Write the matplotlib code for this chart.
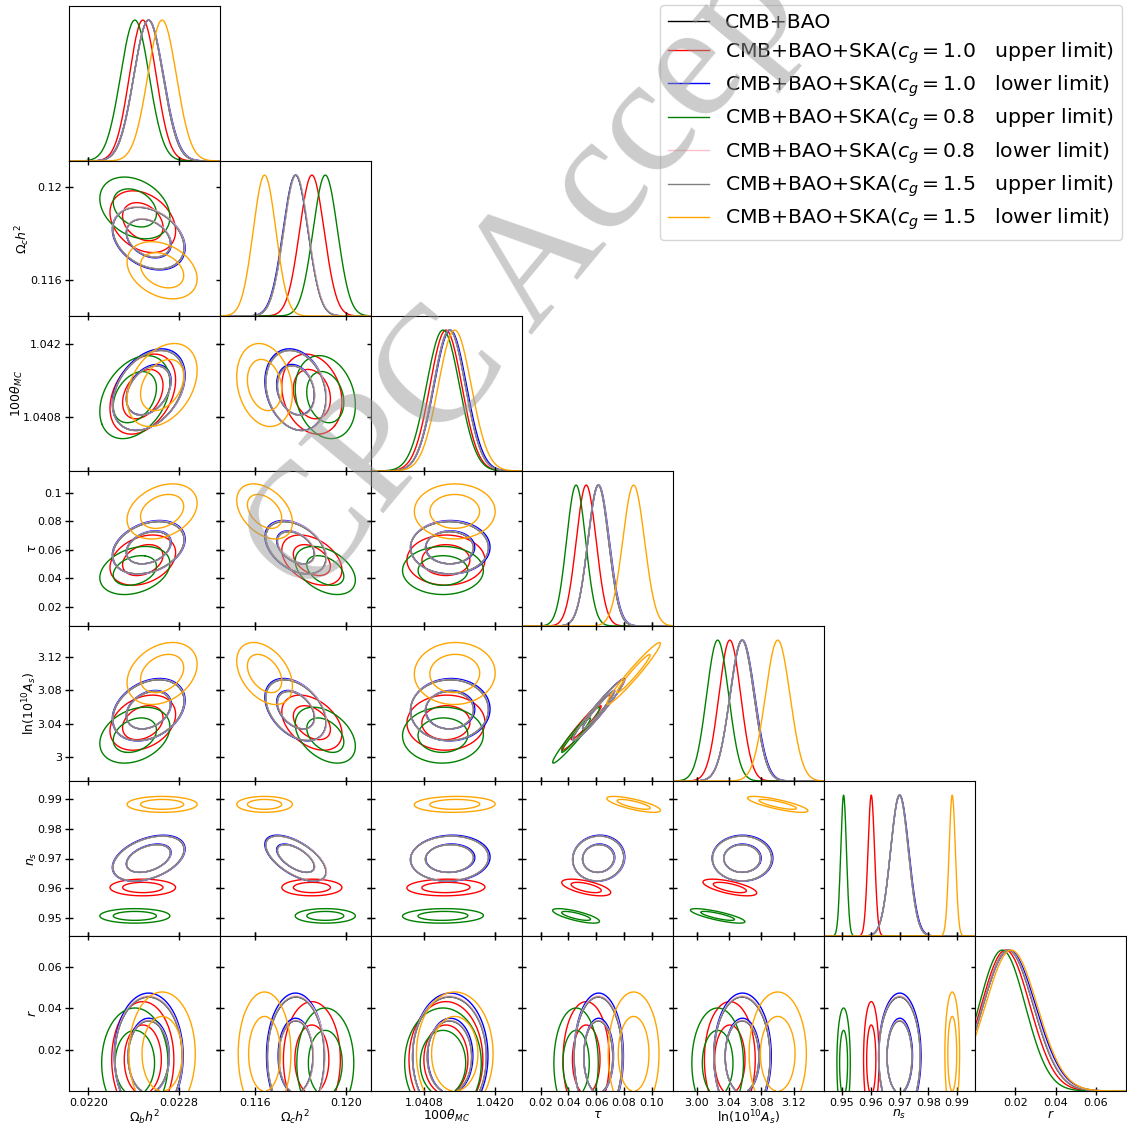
import numpy as np
import matplotlib
matplotlib.use('Agg')
import matplotlib.pyplot as plt
from matplotlib.lines import Line2D

# Parameters (order: omegabh2, omegach2, 100theta_MC, tau, ln(10^10 As), ns, r)
# --------------
par_labels = [r'$\Omega_b h^2$', r'$\Omega_c h^2$', r'$100\theta_{MC}$', r'$\tau$',
              r'${\rm ln}(10^{10}A_s)$', r'$n_s$', r'$r$']
par_lims = [(0.02183, 0.02316), (0.11446, 0.1211), (1.0399, 1.04246), (0.0065, 0.1154),
            (2.971, 3.157), (0.9438, 0.9962), (0.0, 0.075)]
tick_vals = [[0.0220, 0.0228], [0.116, 0.120], [1.0408, 1.0420],
             [0.02, 0.04, 0.06, 0.08, 0.10], [3.00, 3.04, 3.08, 3.12],
             [0.95, 0.96, 0.97, 0.98, 0.99], [0.02, 0.04, 0.06]]
x_ticklabels = [['0.0220', '0.0228'], ['0.116', '0.120'], ['1.0408', '1.0420'],
                ['0.02', '0.04', '0.06', '0.08', '0.10'], ['3.00', '3.04', '3.08', '3.12'],
                ['0.95', '0.96', '0.97', '0.98', '0.99'], ['0.02', '0.04', '0.06']]
y_ticklabels = [['0.0220', '0.0228'], ['0.116', '0.12'], ['1.0408', '1.042'],
                ['0.02', '0.04', '0.06', '0.08', '0.1'], ['3', '3.04', '3.08', '3.12'],
                ['0.95', '0.96', '0.97', '0.98', '0.99'], ['0.02', '0.04', '0.06']]

# Datasets
# --------------
names = ['CMB+BAO',
         r'CMB+BAO+SKA($c_g=1.0$   upper limit)',
         r'CMB+BAO+SKA($c_g=1.0$   lower limit)',
         r'CMB+BAO+SKA($c_g=0.8$   upper limit)',
         r'CMB+BAO+SKA($c_g=0.8$   lower limit)',
         r'CMB+BAO+SKA($c_g=1.5$   upper limit)',
         r'CMB+BAO+SKA($c_g=1.5$   lower limit)']
colors = ['k', 'red', 'blue', 'green', 'pink', 'gray', 'orange']

# means
mean_cmb_bao = [0.022530, 0.11780, 1.04123, 0.0615, 3.0560, 0.9700, 0.0165]
mean_c10_up = [0.022480, 0.11850, 1.04117, 0.0528, 3.0410, 0.9602, 0.0152]
mean_c10_low = [0.022532, 0.11778, 1.041245, 0.0618, 3.0566, 0.9701, 0.0170]
mean_c08_up = [0.022410, 0.11909, 1.04112, 0.0455, 3.0260, 0.9506, 0.0135]
mean_c08_low = [0.022531, 0.11781, 1.04123, 0.0616, 3.0562, 0.9700, 0.0166]
mean_c15_up = [0.022530, 0.11779, 1.04123, 0.0615, 3.0561, 0.9700, 0.0165]
mean_c15_low = [0.022650, 0.11642, 1.04132, 0.0870, 3.1000, 0.9883, 0.0180]

# standard deviations
sig_cmb_bao = [0.000128, 0.00054, 0.00027, 0.0075, 0.0149, 0.0031, 0.0125]
sig_c10_up = [0.000118, 0.00054, 0.00027, 0.0072, 0.0135, 0.00115, 0.0121]
sig_c10_low = [0.000131, 0.00055, 0.000275, 0.0077, 0.0153, 0.00318, 0.0131]
sig_c08_up = [0.000126, 0.00054, 0.00028, 0.0069, 0.0137, 0.00100, 0.0115]
sig_c08_low = [0.000129, 0.000545, 0.00027, 0.0076, 0.0150, 0.0031, 0.0127]
sig_c15_up = [0.000128, 0.00054, 0.00027, 0.0075, 0.0149, 0.0031, 0.0125]
sig_c15_low = [0.000126, 0.00050, 0.00028, 0.0079, 0.0152, 0.00110, 0.0129]

# correlation coefficients shared by all datasets
corr_base = [[1.00, -0.30, 0.35, 0.30, 0.30, 0.40, 0.00],
             [-0.30, 1.00, -0.20, -0.40, -0.40, -0.60, 0.00],
             [0.35, -0.20, 1.00, 0.00, 0.02, 0.05, 0.00],
             [0.30, -0.40, 0.00, 1.00, 0.97, 0.05, 0.00],
             [0.30, -0.40, 0.02, 0.97, 1.00, 0.00, 0.00],
             [0.40, -0.60, 0.05, 0.05, 0.00, 1.00, 0.00],
             [0.00, 0.00, 0.00, 0.00, 0.00, 0.00, 1.00]]
# n_s correlations per dataset (SKA upper limits change them)
rho_b_ns = [0.40, 0.00, 0.40, 0.00, 0.40, 0.40, 0.00]
rho_c_ns = [-0.60, 0.00, -0.60, 0.00, -0.60, -0.60, 0.00]
rho_tau_ns = [0.05, -0.60, 0.05, -0.75, 0.05, 0.05, -0.75]
rho_logA_ns = [0.00, -0.65, 0.00, -0.80, 0.00, 0.00, -0.80]

means = [mean_cmb_bao, mean_c10_up, mean_c10_low, mean_c08_up, mean_c08_low, mean_c15_up, mean_c15_low]
sigmas = [sig_cmb_bao, sig_c10_up, sig_c10_low, sig_c08_up, sig_c08_low, sig_c15_up, sig_c15_low]
npar = len(par_labels)
R_INDEX = 6


def get_rho(k, i, j):
    pair = tuple(sorted((i, j)))
    if pair == (0, 5):
        return rho_b_ns[k]
    if pair == (1, 5):
        return rho_c_ns[k]
    if pair == (3, 5):
        return rho_tau_ns[k]
    if pair == (4, 5):
        return rho_logA_ns[k]
    return corr_base[i][j]


def grid_for(k, i, n=220):
    m, s = means[k][i], sigmas[k][i]
    lo = m - 5 * s
    if i == R_INDEX:
        lo = 0.0
    return np.linspace(lo, m + 5 * s, n)


def density_levels(Z, fracs=(0.95, 0.68)):
    z = np.sort(Z.ravel())[::-1]
    c = np.cumsum(z)
    c /= c[-1]
    return [z[np.searchsorted(c, f)] for f in fracs]


fig = plt.figure(figsize=(11.27, 11.28), dpi=100)
gs = fig.add_gridspec(npar, npar, left=69 / 1127, right=1126 / 1127,
                      top=1 - 6 / 1128, bottom=1 - 1091 / 1128, wspace=0, hspace=0)

for row in range(npar):
    for col in range(row + 1):
        ax = fig.add_subplot(gs[row, col])
        ax.set_xlim(par_lims[col])
        if row == col:
            # 1D marginals
            x = np.linspace(par_lims[col][0], par_lims[col][1], 500)
            for k in range(len(names)):
                y = np.exp(-0.5 * ((x - means[k][col]) / sigmas[k][col]) ** 2)
                ax.plot(x, y, color=colors[k], lw=1.0)
            ax.set_ylim(0, 1.1)
            ax.set_yticks([])
            ax.tick_params(axis='x', direction='inout', length=6, width=1, top=False,
                           bottom=True, labelsize=8, pad=2)
        else:
            # 2D contours
            for k in range(len(names)):
                gx = grid_for(k, col)
                gy = grid_for(k, row)
                X, Y = np.meshgrid(gx, gy)
                dx = (X - means[k][col]) / sigmas[k][col]
                dy = (Y - means[k][row]) / sigmas[k][row]
                rho = get_rho(k, row, col)
                Q = (dx ** 2 - 2 * rho * dx * dy + dy ** 2) / (1 - rho ** 2)
                Z = np.exp(-0.5 * Q)
                lev = density_levels(Z)
                ax.contour(X, Y, Z, levels=lev, colors=colors[k], linewidths=1.0)
            ax.set_ylim(par_lims[row])
            ax.set_yticks(tick_vals[row])
            ax.tick_params(axis='both', direction='inout', length=6, width=1, top=True,
                           right=True, labelsize=8, pad=2)
            if col == 0:
                ax.set_yticklabels(y_ticklabels[row])
                ax.set_ylabel(par_labels[row], fontsize=9, labelpad=-1)
            else:
                ax.set_yticklabels([])
        ax.set_xticks(tick_vals[col])
        if row == npar - 1:
            ax.set_xticklabels(x_ticklabels[col])
            ax.set_xlabel(par_labels[col], fontsize=9, labelpad=0)
        else:
            ax.set_xticklabels([])

# Legend
handles = [Line2D([0], [0], color=c, lw=1.0) for c in colors]
fig.legend(handles, names, loc='upper right', bbox_to_anchor=(1122 / 1127, 1 - 5 / 1128),
           fontsize=14.7, borderaxespad=0, handlelength=2.0, labelspacing=0.385)

# Watermark
fig.text(0.5235, 0.821, 'CPC Accepted', fontsize=120, family='Liberation Serif',
         color='0.6', alpha=0.5, rotation=50.3, rotation_mode='anchor',
         ha='center', va='center', zorder=10)

fig.savefig('out.png', dpi=100)
